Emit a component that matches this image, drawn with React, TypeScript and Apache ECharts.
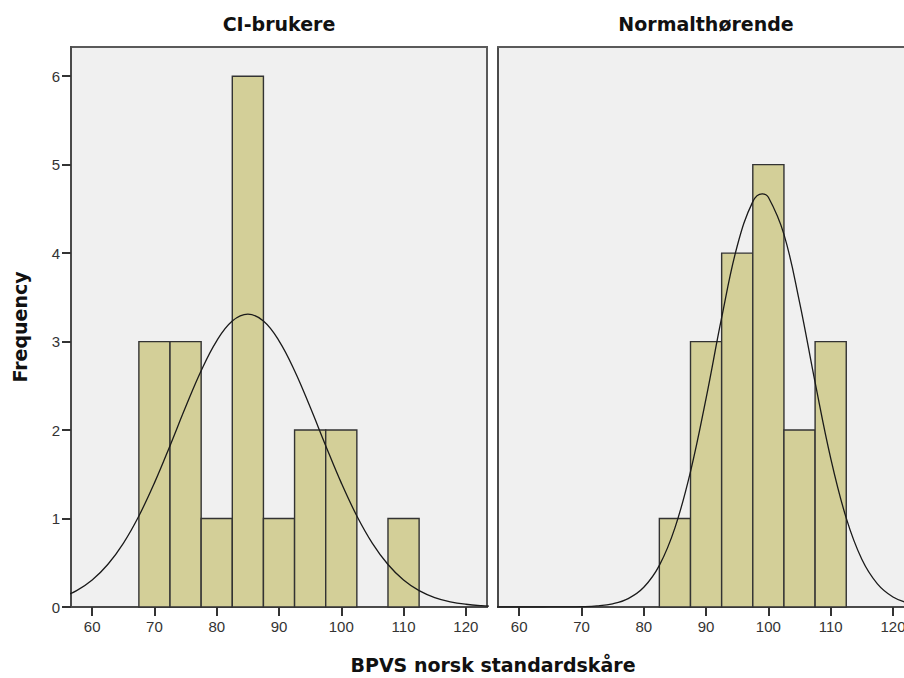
import React, { useEffect, useRef } from "react";
import * as echarts from "echarts";

const panelTitles = ["CI-brukere", "Normalthørende"];
const xAxisTitle = "BPVS norsk standardskåre";
const yAxisTitle = "Frequency";

const binWidth = 5;
const ciBinCenters = [70, 75, 80, 85, 90, 95, 100, 110];
const ciCounts = [3, 3, 1, 6, 1, 2, 2, 1];
const nhBinCenters = [85, 90, 95, 100, 105, 110];
const nhCounts = [1, 3, 4, 5, 2, 3];

const xTicks = [60, 70, 80, 90, 100, 110, 120];
const yTicks = [0, 1, 2, 3, 4, 5, 6];

// normal curve overlays
const ciCurveX = [55, 57.5, 60, 62.5, 65, 67.5, 70, 72.5, 75, 77.5, 80, 82.5, 85, 87.5, 90, 92.5, 95, 97.5, 100, 102.5, 105, 107.5, 110, 112.5, 115, 117.5, 120, 122.5, 125];
const ciCurveY = [0.107, 0.185, 0.305, 0.48, 0.72, 1.029, 1.403, 1.824, 2.26, 2.671, 3.009, 3.232, 3.31, 3.232, 3.009, 2.671, 2.26, 1.824, 1.403, 1.029, 0.72, 0.48, 0.305, 0.185, 0.107, 0.059, 0.031, 0.0155, 0.0074];
const nhCurveX = [55, 60, 62.5, 65, 67.5, 70, 72.5, 75, 77.5, 80, 82.5, 85, 87.5, 90, 92.5, 95, 97.5, 99, 100, 102.5, 105, 107.5, 110, 112.5, 115, 117.5, 120, 122.5, 125];
const nhCurveY = [0, 0, 0.0001, 0.0003, 0.0011, 0.0039, 0.0125, 0.0363, 0.0947, 0.2225, 0.47, 0.894, 1.531, 2.359, 3.27, 4.081, 4.582, 4.67, 4.631, 4.212, 3.447, 2.539, 1.683, 1.004, 0.539, 0.261, 0.113, 0.0443, 0.0156];

const X_MIN = 56.6;
const X_MAX = 123.4;
// right panel is cut by the picture's right edge
const X_MAX_RIGHT = 121.77;
const Y_MAX = 6.33;

const tickFont = "'Liberation Sans', Arial, sans-serif";
const boldFont = "'DejaVu Sans', Verdana, sans-serif";

function barData(centers: number[], counts: number[]) {
  return centers.map((c, i) => [c - binWidth / 2, c + binWidth / 2, counts[i]]);
}

function renderBar(params: any, api: any) {
  const x0 = api.value(0);
  const x1 = api.value(1);
  const v = api.value(2);
  const p0 = api.coord([x0, v]);
  const p1 = api.coord([x1, 0]);
  return {
    type: "rect",
    shape: { x: p0[0], y: p0[1], width: p1[0] - p0[0], height: p1[1] - p0[1] },
    style: { fill: "#d3cf98", stroke: "#333333", lineWidth: 1.4 },
  };
}

const axisLineStyle = { color: "#4a4a4a", width: 2 };

export default function App() {
  const ref = useRef<HTMLDivElement>(null);
  useEffect(() => {
    if (!ref.current) return;
    const chart = echarts.init(ref.current, undefined, { renderer: "svg" });
    const xAxisBase = (gridIndex: number, max: number) => ({
      type: "value",
      gridIndex,
      min: X_MIN,
      max,
      splitLine: { show: false },
      axisLine: { show: true, lineStyle: axisLineStyle },
      axisTick: {
        show: true,
        customValues: xTicks,
        length: 9,
        lineStyle: { color: "#333", width: 2 },
      },
      axisLabel: {
        customValues: xTicks,
        margin: 12,
        fontFamily: tickFont,
        fontSize: 15,
        color: "#333",
        hideOverlap: false,
      },
    });
    const option: any = {
      animation: false,
      grid: [
        { left: 71, top: 47, width: 416, height: 560, show: true, backgroundColor: "#f0f0f0", borderColor: "#5a5a5a", borderWidth: 2, outerBoundsMode: "none", containLabel: false },
        { left: 498, top: 47, width: 406, height: 560, show: true, backgroundColor: "#f0f0f0", borderWidth: 0, outerBoundsMode: "none", containLabel: false },
      ],
      xAxis: [
        xAxisBase(0, X_MAX),
        xAxisBase(1, X_MAX_RIGHT),
        {
          type: "value",
          gridIndex: 1,
          position: "top",
          min: X_MIN,
          max: X_MAX_RIGHT,
          splitLine: { show: false },
          axisLine: { show: true, lineStyle: { color: "#5a5a5a", width: 2 } },
          axisTick: { show: false },
          axisLabel: { show: false },
        },
      ],
      yAxis: [
        {
          type: "value",
          gridIndex: 0,
          min: 0,
          max: Y_MAX,
          splitLine: { show: false },
          axisLine: { show: true, lineStyle: axisLineStyle },
          axisTick: { show: true, customValues: yTicks, length: 9, lineStyle: { color: "#333", width: 2 } },
          axisLabel: { customValues: yTicks, margin: 11, fontFamily: tickFont, fontSize: 15, color: "#333" },
          name: yAxisTitle,
          nameLocation: "middle",
          nameGap: 42,
          nameRotate: 90,
          nameTextStyle: { fontFamily: boldFont, fontWeight: "bold", fontSize: 19, color: "#111" },
        },
        {
          type: "value",
          gridIndex: 1,
          min: 0,
          max: Y_MAX,
          splitLine: { show: false },
          axisLine: { show: true, lineStyle: axisLineStyle },
          axisTick: { show: false },
          axisLabel: { show: false },
        },
      ],
      series: [
        {
          type: "custom",
          xAxisIndex: 0,
          yAxisIndex: 0,
          renderItem: renderBar,
          encode: { x: [0, 1], y: 2 },
          data: barData(ciBinCenters, ciCounts),
          z: 2,
        },
        {
          type: "custom",
          xAxisIndex: 1,
          yAxisIndex: 1,
          renderItem: renderBar,
          encode: { x: [0, 1], y: 2 },
          data: barData(nhBinCenters, nhCounts),
          z: 2,
        },
        {
          type: "line",
          xAxisIndex: 0,
          yAxisIndex: 0,
          data: ciCurveX.map((x, i) => [x, ciCurveY[i]]),
          smooth: 0.4,
          symbol: "none",
          clip: true,
          lineStyle: { color: "#1a1a1a", width: 1.3 },
          z: 3,
        },
        {
          type: "line",
          xAxisIndex: 1,
          yAxisIndex: 1,
          data: nhCurveX.map((x, i) => [x, nhCurveY[i]]),
          smooth: 0.4,
          symbol: "none",
          clip: true,
          lineStyle: { color: "#1a1a1a", width: 1.3 },
          z: 3,
        },
      ],
      graphic: [
        {
          type: "text",
          x: 279,
          y: 24,
          style: { text: panelTitles[0], textAlign: "center", textVerticalAlign: "middle", fontFamily: boldFont, fontWeight: "bold", fontSize: 19, fill: "#111" },
        },
        {
          type: "text",
          x: 706,
          y: 24,
          style: { text: panelTitles[1], textAlign: "center", textVerticalAlign: "middle", fontFamily: boldFont, fontWeight: "bold", fontSize: 19, fill: "#111" },
        },
        {
          type: "text",
          x: 493,
          y: 665,
          style: { text: xAxisTitle, textAlign: "center", textVerticalAlign: "middle", fontFamily: boldFont, fontWeight: "bold", fontSize: 19, fill: "#111" },
        },
      ],
    };
    chart.setOption(option);
    return () => chart.dispose();
  }, []);
  return (
    <div
      ref={ref}
      style={{ position: "fixed", left: 0, top: 0, width: 904, height: 678, background: "#fff" }}
    />
  );
}
